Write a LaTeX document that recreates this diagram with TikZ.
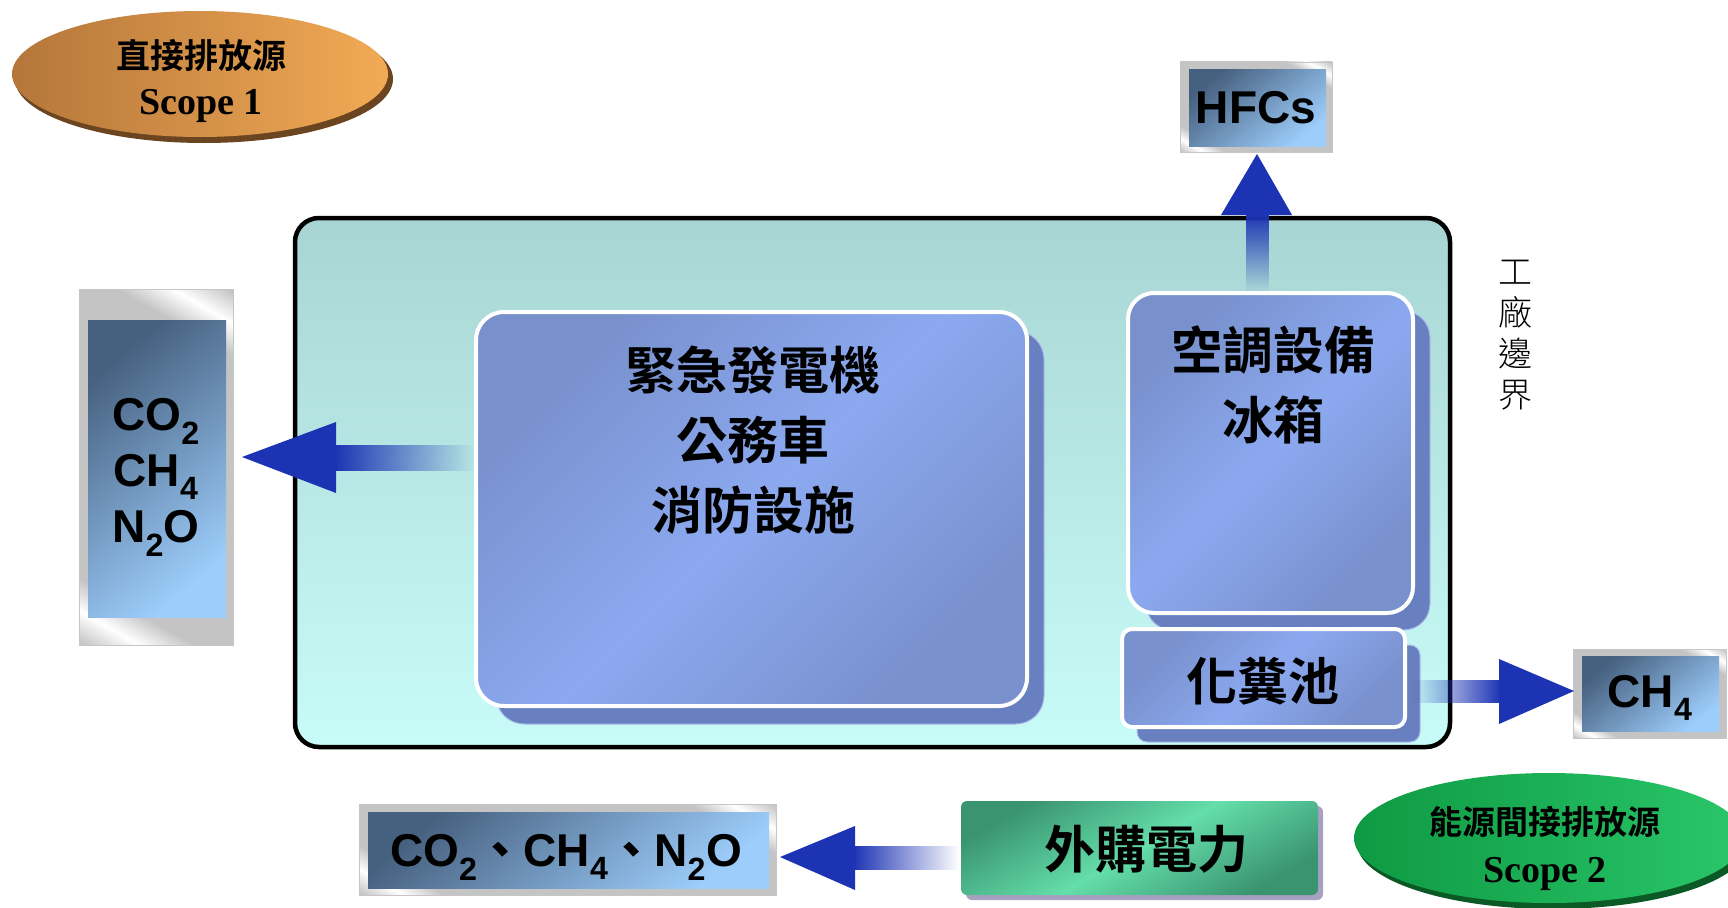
\documentclass[tikz,border=0pt]{standalone}
\usepackage{fontspec}
\setmainfont{Liberation Sans}
\newfontfamily\cjkb{Noto Sans CJK TC Bold}
\newfontfamily\cjkl{Noto Sans CJK TC Light}
\newfontfamily\tnr{Liberation Serif}
\usetikzlibrary{fadings,shapes.geometric}
\definecolor{factTop}{HTML}{A8D5D3}
\definecolor{factBot}{HTML}{C8FCF8}
\definecolor{boxA}{HTML}{7890CC}
\definecolor{boxB}{HTML}{8CA9F0}
\definecolor{shBlue}{HTML}{6880C0}
\definecolor{shEdge}{HTML}{B0C0EC}
\definecolor{gasDark}{HTML}{46607F}
\definecolor{gasLight}{HTML}{9DCDFB}
\definecolor{silv}{HTML}{C4C4C4}
\definecolor{arrowBlue}{HTML}{1C33B4}
\definecolor{orA}{HTML}{B4763A}
\definecolor{orB}{HTML}{F2AA55}
\definecolor{orSh}{HTML}{6B4420}
\definecolor{grA}{HTML}{0E9A42}
\definecolor{grB}{HTML}{2AC66A}
\definecolor{grSh}{HTML}{0B5A25}
\definecolor{gbA}{HTML}{3A9470}
\definecolor{gbB}{HTML}{64DEAA}
\definecolor{gbSh}{HTML}{A8A0C0}
\pgfdeclarehorizontalshading{silver}{100bp}{color(0bp)=(silv); color(16bp)=(silv); color(21bp)=(white); color(26bp)=(silv); color(74bp)=(silv); color(79bp)=(white); color(84bp)=(silv); color(100bp)=(silv)}
\tikzset{
  silverframe/.style={shading=silver, shading angle=60, draw=gray!45, line width=0.8pt, inner sep=0pt},
  gasinner/.style={top color=gasDark, bottom color=gasLight, shading angle=40, inner sep=0pt},
  gastext/.style={font=\fontsize{46}{56}\selectfont\bfseries, align=center, text=black},
  bluebox/.style={top color=boxA, bottom color=boxA, middle color=boxB, shading angle=45, draw=white, line width=4pt, inner sep=0pt},
  blueshadow/.style={fill=shBlue, draw=shEdge, line width=1pt, inner sep=0pt},
  bigcjk/.style={font=\fontsize{51}{70}\selectfont\cjkb, align=center},
  arrowhead/.style={fill=arrowBlue},
  arrowshaft/.style={fill=arrowBlue}
}
\begin{document}
\begin{tikzpicture}[x=1pt,y=-1pt]
\useasboundingbox[fill=white] (0,0) rectangle (1728,907);

% Scope 1 ellipse
\node[ellipse, fill=orSh, minimum width=378pt, minimum height=128pt, inner sep=0pt] (s1sh) at (204,79) {};
\node[ellipse, left color=orA, right color=orB, minimum width=376pt, minimum height=126pt, inner sep=0pt] (s1) at (200,74) {};
\node[font=\fontsize{34}{40}\selectfont\cjkb] (s1a) at (201,56) {直接排放源};
\node[font=\fontsize{38}{40}\selectfont\tnr\bfseries] (s1b) at (201,106) {Scope 1};

% factory boundary
\node[draw=black, line width=4.5pt, rounded corners=24pt, top color=factTop, bottom color=factBot, minimum width=1155pt, minimum height=529pt, inner sep=0pt] (fact) at (872.5,482.5) {};

% generator box
\node[blueshadow, rounded corners=28pt, minimum width=548pt, minimum height=393pt] (gensh) at (770,527.5) {};
\node[bluebox, rounded corners=28pt, minimum width=551pt, minimum height=394pt] (gen) at (751.5,509) {};
\node[bigcjk] (gent) at (753,440) {緊急發電機\\公務車\\消防設施};

% AC box
\node[blueshadow, rounded corners=26pt, minimum width=284pt, minimum height=319pt] (acsh) at (1288,470.5) {};
\node[bluebox, rounded corners=26pt, minimum width=285pt, minimum height=320pt] (ac) at (1270.5,453) {};
\node[bigcjk] (act) at (1273,385) {空調設備\\冰箱};

% septic box
\node[blueshadow, rounded corners=10pt, minimum width=283pt, minimum height=97pt] (sepsh) at (1278.5,693.5) {};
\node[bluebox, rounded corners=10pt, minimum width=283pt, minimum height=98pt] (sep) at (1263.5,678) {};
\node[bigcjk] (sept) at (1263,681) {化糞池};

% boundary label
\node[font=\fontsize{34}{41}\selectfont\cjkl, align=center] (bd) at (1515,335) {工\\廠\\邊\\界};

% left gas box
\node[silverframe, minimum width=154pt, minimum height=356pt] (gasL) at (156,467) {};
\node[gasinner, minimum width=138pt, minimum height=297pt] (gasLi) at (157,468.5) {};
\node[gastext] (gasLt) at (156,477) {CO\textsubscript{2}\\CH\textsubscript{4}\\N\textsubscript{2}O};

% HFCs box
\node[silverframe, minimum width=152pt, minimum height=90pt] (hfc) at (1256,107) {};
\node[gasinner, minimum width=137pt, minimum height=77pt] (hfci) at (1257.5,107.5) {};
\node[gastext] (hfct) at (1256,108) {HFCs};

% CH4 box
\node[silverframe, minimum width=153pt, minimum height=89pt] (ch4) at (1649.5,693.5) {};
\node[gasinner, minimum width=137pt, minimum height=75pt] (ch4i) at (1650.5,693.5) {};
\node[gastext] (ch4t) at (1650,698) {CH\textsubscript{4}};

% bottom gas box
\node[silverframe, minimum width=417pt, minimum height=91pt] (gasB) at (567.5,849.5) {};
\node[gasinner, minimum width=401pt, minimum height=76pt] (gasBi) at (568.5,850) {};
\node[gastext] (gasBt) at (566,857) {CO\textsubscript{2}{\cjkb 、}CH\textsubscript{4}{\cjkb 、}N\textsubscript{2}O};

% purchased power
\node[fill=gbSh, rounded corners=6pt, minimum width=357pt, minimum height=94pt, inner sep=0pt] (pwrsh) at (1144.5,853) {};
\node[top color=gbA, bottom color=gbA, middle color=gbB, shading angle=30, rounded corners=6pt, minimum width=357pt, minimum height=94pt, inner sep=0pt] (pwr) at (1139.5,848) {};
\node[font=\fontsize{51}{60}\selectfont\cjkb] (pwrt) at (1146,849) {外購電力};

% Scope 2 ellipse
\node[ellipse, fill=grSh, minimum width=392pt, minimum height=132pt, inner sep=0pt] (s2sh) at (1553,843) {};
\node[ellipse, left color=grA, right color=grB, minimum width=390pt, minimum height=130pt, inner sep=0pt] (s2) at (1549,838) {};
\node[font=\fontsize{33}{40}\selectfont\cjkb] (s2a) at (1545,822) {能源間接排放源};
\node[font=\fontsize{38}{40}\selectfont\tnr\bfseries] (s2b) at (1545,874) {Scope 2};

% arrows
\coordinate (tipL) at (242,457);
\fill[arrowshaft, path fading=east] (334,445) rectangle (474,471);
\fill[arrowhead] (tipL) -- (336,422) -- (336,493) -- cycle;

\coordinate (tipU) at (1257,154);
\fill[arrowshaft, path fading=south] (1246,213) rectangle (1269,292);
\fill[arrowhead] (tipU) -- (1292,215) -- (1221,215) -- cycle;

\coordinate (tipR) at (1574,691);
\fill[arrowshaft, path fading=west] (1412,680) rectangle (1501,703);
\fill[arrowhead] (tipR) -- (1499,724) -- (1499,659) -- cycle;

\coordinate (tipB) at (780,857);
\fill[arrowshaft, path fading=east] (853,846) rectangle (959,870);
\fill[arrowhead] (tipB) -- (855,826) -- (855,890) -- cycle;
\end{tikzpicture}
\end{document}
